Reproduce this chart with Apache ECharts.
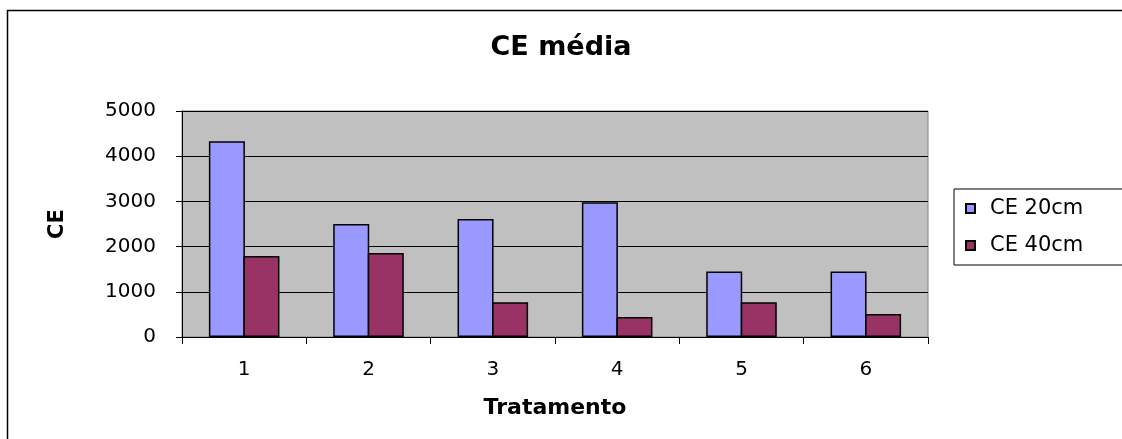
<!DOCTYPE html>
<html lang="pt">
  <head>
    <meta charset="UTF-8" />
    <title>CE média</title>
    <style>
      * {
        padding: 0;
        margin: 0;
      }
      body {
        background: #fff;
        overflow: hidden;
      }
    </style>
    <script src="https://cdn.jsdelivr.net/npm/echarts@6/dist/echarts.min.js"></script>
  </head>
  <body>
    <div id="main" style="width: 1122px; height: 439px;"></div>
    <script type="text/javascript">
      // dados
      var tratamentos = ['1', '2', '3', '4', '5', '6'];
      var ce20 = [4330, 2500, 2610, 2980, 1450, 1450];
      var ce40 = [1790, 1860, 770, 440, 770, 510];
      var yTicks = [0, 1000, 2000, 3000, 4000, 5000];

      var font = 'DejaVu Sans';
      var myChart = echarts.init(document.getElementById('main'));

      var option = {
        animation: false,
        backgroundColor: '#fff',
        textStyle: {fontFamily: font, color: '#000'},
        graphic: [
          // moldura do gráfico (lados direito e inferior ficam fora da imagem)
          {
            type: 'polyline',
            shape: {points: [[7.5, 460], [7.5, 10.5], [1140, 10.5]]},
            style: {fill: null, stroke: '#000', lineWidth: 1.5},
            silent: true
          }
        ],
        title: {
          text: 'CE média',
          left: 'center',
          top: 29,
          textStyle: {fontFamily: font, fontWeight: 'bold', fontSize: 27, color: '#000'}
        },
        legend: {
          orient: 'vertical',
          left: 954,
          top: 189,
          padding: [9, 80, 9, 11],
          itemGap: 16,
          itemWidth: 9,
          itemHeight: 9,
          icon: 'rect',
          borderColor: '#000',
          borderWidth: 1,
          textStyle: {
            fontFamily: font,
            fontSize: 21,
            color: '#000',
            lineHeight: 20,
            padding: [0, 0, 0, 10]
          },
          data: ['CE 20cm', 'CE 40cm']
        },
        grid: {
          left: 182,
          right: 194,
          top: 111,
          bottom: 102,
          show: true,
          backgroundColor: '#C0C0C0',
          borderColor: '#808080',
          borderWidth: 1,
          containLabel: false
        },
        xAxis: {
          type: 'category',
          data: tratamentos,
          name: 'Tratamento',
          nameLocation: 'middle',
          nameGap: 60,
          nameTextStyle: {fontFamily: font, fontWeight: 'bold', fontSize: 22, color: '#000'},
          axisLine: {lineStyle: {color: '#000', width: 1}},
          axisTick: {show: true, length: 7, lineStyle: {color: '#000'}},
          axisLabel: {fontFamily: font, fontSize: 20, color: '#000', margin: 23},
          splitLine: {show: false}
        },
        yAxis: {
          type: 'value',
          min: yTicks[0],
          max: yTicks[yTicks.length - 1],
          interval: yTicks[1] - yTicks[0],
          name: 'CE',
          nameLocation: 'middle',
          nameGap: 124,
          nameRotate: 90,
          nameTextStyle: {
            fontFamily: font,
            fontWeight: 'bold',
            fontSize: 21,
            color: '#000',
            align: 'center',
            verticalAlign: 'middle'
          },
          axisLine: {show: true, lineStyle: {color: '#000', width: 1}},
          axisTick: {show: true, length: 6, lineStyle: {color: '#000'}},
          axisLabel: {
            fontFamily: font,
            fontSize: 20,
            color: '#000',
            margin: 26,
            formatter: function (v) { return String(v); }
          },
          splitLine: {show: true, lineStyle: {color: '#000', width: 1}}
        },
        series: [
          {
            name: 'CE 20cm',
            type: 'bar',
            data: ce20,
            barWidth: 36,
            barGap: '-4%',
            itemStyle: {color: '#9999FF', borderColor: '#000', borderWidth: 1.5}
          },
          {
            name: 'CE 40cm',
            type: 'bar',
            data: ce40,
            barWidth: 36,
            barGap: '-4%',
            itemStyle: {color: '#993366', borderColor: '#000', borderWidth: 1.5}
          }
        ]
      };

      myChart.setOption(option, true);
    </script>
  </body>
</html>
